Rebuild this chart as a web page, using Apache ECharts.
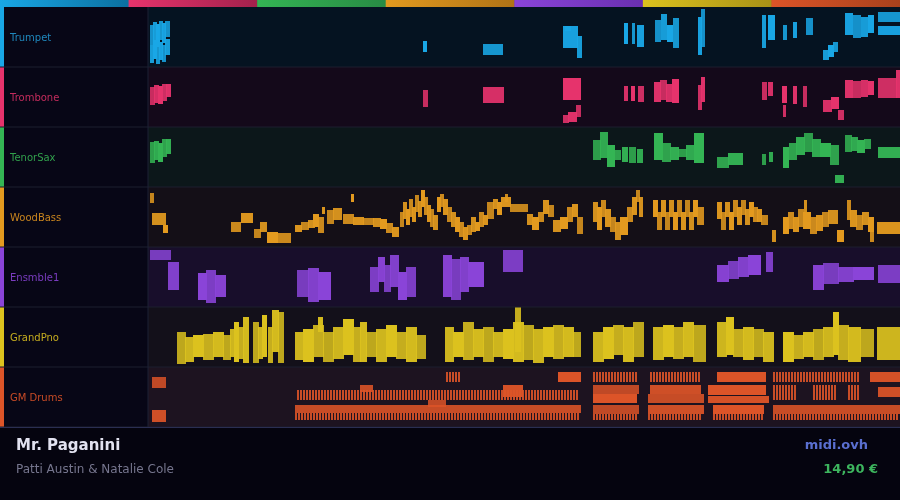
<!DOCTYPE html>
<html>
<head>
<meta charset="utf-8">
<script src="https://cdn.jsdelivr.net/npm/echarts@6/dist/echarts.min.js"></script>
<style>
  html, body { margin: 0; padding: 0; background: #05040f; }
  #chart { width: 900px; height: 500px; }
</style>
</head>
<body>
<div id="chart"></div>
<script>
// notes: [start, end, rowTop, rowBottom(, striped)] ; time 0..752, rows 0..60 (top -> bottom)
const trackNames = ['Trumpet', 'Trombone', 'TenorSax', 'WoodBass', 'Ensmble1', 'GrandPno', 'GM Drums'];

const trumpetNotes = [
  [2,5,18,38],[5,8,15,35],[8,11,17,40],[11,14,14,33],[14,17,16,36],[17,21,14,30],
  [2,5,38,56],[5,8,33,52],[8,11,40,57],[11,14,35,53],[14,17,38,55],[17,21,32,48],
  [275,278,34,45],[335,354,37,48],
  [415,429,19,41],[417,422,19,24],[429,433,29,51],
  [476,479,16,37],[484,486,16,37],[489,495,18,40],
  [507,512,13,35],[513,518,7,33],[519,524,18,35],[525,530,11,41],
  [550,553,10,48],[553,556,2,40],
  [614,617,8,41],[620,626,8,33],[635,638,18,33],[645,648,15,31],[658,664,11,28],
  [675,680,43,53],[680,685,38,50],[685,689,35,45],
  [697,704,6,28],[705,712,8,31],[713,719,10,30],[720,725,8,26],
  [730,752,5,15],[730,752,19,28]
];

const tromboneNotes = [
  [2,6,20,38],[6,10,18,36],[10,14,19,37],[14,18,17,34],[18,22,17,30],
  [275,279,23,40],[335,355,20,36],
  [415,432,11,33],[415,420,48,56],[420,428,45,55],[428,432,38,50],
  [476,479,19,34],[483,486,19,34],[490,495,19,35],
  [506,512,15,35],[512,518,13,33],[518,524,17,35],[524,530,12,36],
  [550,553,18,43],[553,556,10,35],
  [614,618,15,33],[620,624,15,29],[634,638,19,36],[635,637,38,50],[645,648,19,37],[655,658,19,40],
  [675,683,33,45],[683,690,30,42],[690,695,43,53],
  [697,704,13,31],[705,712,14,31],[713,719,13,30],[720,725,14,28],
  [730,748,11,31],[748,752,3,31]
];

const saxNotes = [
  [2,6,15,36],[6,10,14,33],[10,14,16,35],[14,18,12,30],[18,22,12,27],
  [445,452,13,33],[452,459,5,31],[459,466,18,40],[466,472,23,33],
  [474,479,20,35],[481,487,20,36],[489,494,22,36],
  [506,514,6,33],[514,522,16,35],[522,530,20,33],[530,538,22,30],[538,546,18,33],[546,555,6,36],
  [569,580,30,41],[580,594,26,38],
  [614,617,27,38],[621,624,25,35],
  [635,640,20,41],[641,648,16,33],[648,656,10,28],[656,664,6,25],[664,672,12,30],[672,682,16,30],[682,690,18,38],[687,695,48,56],
  [697,703,8,25],[703,709,10,24],[709,716,13,26],[716,722,12,22],
  [730,752,20,31]
];

const bassNotes = [
  [2,5,6,16],[4,17,26,38],[15,19,38,46],
  [83,92,35,45],[93,104,26,36],[106,112,42,51],[112,118,35,45],[119,129,45,56],[129,142,46,56],
  [147,153,38,45],[153,160,35,43],[160,166,33,41],[165,170,27,40],[170,175,30,46],[174,176,20,27],
  [179,185,23,37],[185,193,21,33],[203,205,7,15],[195,205,27,37],[205,215,30,38],[215,225,31,38],
  [225,232,31,40],[232,238,32,42],[238,244,36,46],[244,250,40,50],
  [252,255,25,40],[255,258,15,32],[258,261,22,38],[261,264,12,30],[264,267,20,35],[267,270,8,25],
  [270,273,14,30],[273,276,3,20],
  [276,279,10,28],[279,282,18,35],[282,285,22,40],[285,289,28,43],
  [289,292,10,25],[292,295,7,20],[295,299,12,28],
  [299,303,20,35],[303,307,25,40],[307,311,30,45],[311,315,35,50],[315,319,40,53],
  [319,323,38,48],[323,327,30,45],[327,331,35,44],[331,335,25,40],[335,339,28,38],[339,345,15,32],
  [345,349,12,22],[349,353,15,28],[357,359,7,15],[353,362,10,20],
  [362,379,17,25],
  [379,384,27,38],[384,390,30,43],[390,395,25,35],
  [395,400,13,27],[400,405,18,30],
  [405,412,33,45],[412,419,30,42],
  [419,424,20,35],[424,429,17,30],[429,434,30,47],
  [445,449,15,35],[449,453,20,43],[453,457,13,30],[457,462,22,40],
  [462,467,30,45],[467,472,35,53],[472,479,30,48],
  [479,484,20,35],[484,488,10,28],[488,491,3,15],[491,494,10,30],
  [505,509,13,30],[509,513,25,43],[513,517,13,30],[517,521,25,43],[521,525,13,30],[525,529,25,43],
  [529,533,13,30],[533,537,25,43],[537,541,13,30],[541,545,25,43],[545,549,13,30],[549,555,20,38],
  [569,573,15,32],[573,577,25,43],[577,581,15,30],[581,585,25,43],[585,589,13,30],[589,593,20,38],
  [593,597,13,28],[597,601,22,38],[601,605,15,30],[605,609,20,35],[609,613,22,35],[613,619,28,38],
  [624,627,43,55],
  [635,640,30,47],[640,645,25,42],[645,650,30,45],[650,655,22,40],[656,658,13,25],[655,662,25,42],
  [662,668,30,47],[668,674,28,44],[674,680,25,40],[680,689,23,37],
  [689,695,43,55],[699,702,13,33],
  [702,708,23,40],[708,714,28,43],[714,720,25,38],[720,725,30,45],[722,725,43,55],
  [729,752,35,47]
];

const ensembleNotes = [
  [2,22,3,13],[20,30,15,43],
  [50,58,26,53],[58,67,23,56],[67,77,28,50],
  [149,160,23,50],[160,170,21,55],[170,182,25,53],
  [222,230,20,45],[230,236,10,35],[236,242,18,45],[242,250,8,40],[250,258,25,53],[258,267,20,50],
  [295,303,8,50],[303,312,12,53],[312,320,10,45],[320,335,15,40],
  [355,374,3,25],
  [569,580,18,35],[580,590,14,32],[590,600,10,30],[600,612,8,28],[618,624,5,25],
  [665,675,18,43],[675,690,16,37],[690,705,20,35],[705,725,20,33],
  [730,752,18,36]
];

const pianoNotes = [
  [29,37,25,57],[37,45,30,55],[45,55,28,50],[55,65,27,53],[65,75,25,50],[75,82,28,53],
  [82,86,22,50],[86,90,15,55],[90,95,20,52],[95,100,10,56],
  [105,110,15,56],[110,114,20,52],[114,118,8,50],[120,124,20,56],[124,130,3,45],[130,135,5,56],
  [147,155,25,53],[155,165,22,55],[165,175,18,50],[170,174,10,25],[175,185,25,55],[185,195,20,52],
  [195,205,12,48],[205,212,20,55],
  [212,218,15,55],[218,228,25,50],[228,238,22,55],[238,248,18,50],[248,258,25,52],[258,268,20,55],[268,277,28,52],
  [297,305,20,55],[305,315,25,50],[315,325,15,53],[325,335,22,50],[335,345,20,55],[345,355,25,50],
  [355,365,22,52],[367,372,0,45],[365,375,15,55],[375,385,18,53],[385,395,22,56],[395,405,20,50],
  [405,415,18,52],[415,425,20,50],[425,432,25,50],
  [445,455,25,55],[455,465,20,52],[465,475,18,48],[475,485,20,55],[485,495,15,50],
  [505,515,20,53],[515,525,18,50],[525,535,20,52],[535,545,15,50],[545,557,18,55],
  [569,578,15,50],[578,585,10,48],[585,595,22,50],[595,605,20,53],[605,615,22,50],[615,625,25,55],
  [635,645,25,55],[645,655,28,52],[655,665,25,50],[665,675,22,53],[675,685,20,50],[685,690,5,48],
  [690,700,18,53],[700,712,20,55],[712,725,22,50],
  [729,752,20,53]
];

const drumNotes = [
  [4,17,10,21,0],[4,17,43,55,0],
  [149,432,23,33,1],[212,224,18,25,0],[355,374,18,30,0],[280,297,33,40,0],
  [298,314,5,15,1],[410,432,5,15,0],
  [147,432,38,46,0],[147,432,46,53,1],
  [445,490,5,15,1],[502,552,5,15,1],[569,617,5,15,0],[625,712,5,15,1],[722,752,5,15,0],
  [445,490,18,27,0],[502,552,18,27,0],[560,617,18,28,0],[625,650,18,33,1],[665,690,18,33,1],
  [700,712,18,33,1],[730,752,20,30,0],
  [445,488,27,36,0],[500,555,27,36,0],[560,620,29,36,0],
  [445,490,38,47,0],[500,555,38,47,0],[565,615,38,47,0],[625,752,38,47,0],
  [445,490,47,53,1],[500,555,47,53,1],[565,615,47,53,1],[625,752,47,53,1]
];

const tracks = [trumpetNotes, tromboneNotes, saxNotes, bassNotes, ensembleNotes, pianoNotes, drumNotes];
const noteColors = ['#19a7e6', '#e6336c', '#34b554', '#e39a1f', '#8a44d8', '#dcc21e', '#dc5428'];
const labelColors = ['#1f88bd', '#c42c5d', '#31a04c', '#c8841e', '#7a3cc0', '#c6ad1f', '#c84b26'];
const laneBg = ['#051321', '#14091a', '#0c171a', '#140f17', '#180e2b', '#13101a', '#1d1320'];
const barDark = ['#0b6f9f', '#a3214c', '#288b44', '#b07316', '#6a2fb0', '#a89116', '#a8411c'];

const LANE_TOP = 7, LANE_H = 60, LEFT = 148;

const chart = echarts.init(document.getElementById('chart'), null, { renderer: 'canvas' });

function renderNote(color) {
  return function (params, api) {
    const a = api.coord([api.value(0), api.value(2)]);
    const b = api.coord([api.value(1), api.value(3)]);
    const w = Math.max(b[0] - a[0], 2) + 1;
    const h = b[1] - a[1];
    const shade = 0.85 + 0.15 * ((params.dataIndex * 7) % 5) / 4;
    if (api.value(4) === 1) {
      const kids = [];
      for (let x = a[0]; x < a[0] + w - 2; x += 3) {
        kids.push({ type: 'rect', shape: { x: x, y: a[1], width: 2, height: h }, style: { fill: color, opacity: 0.9 } });
      }
      return { type: 'group', children: kids };
    }
    return { type: 'rect', shape: { x: a[0], y: a[1], width: w, height: h }, style: { fill: color, opacity: shade } };
  };
}

const grids = [], xAxes = [], yAxes = [], series = [], graphics = [];
tracks.forEach((notes, i) => {
  grids.push({ left: LEFT, right: 0, top: LANE_TOP + i * LANE_H, height: LANE_H,
    show: true, backgroundColor: laneBg[i], borderWidth: 0 });
  xAxes.push({ gridIndex: i, type: 'value', min: 0, max: 752, show: false });
  yAxes.push({ gridIndex: i, type: 'value', min: 0, max: 60, inverse: true, show: false });
  series.push({ type: 'custom', xAxisIndex: i, yAxisIndex: i, data: notes, clip: true,
    renderItem: renderNote(noteColors[i]), silent: true, animation: false });

  const top = LANE_TOP + i * LANE_H;
  graphics.push({ type: 'rect', left: 0, top: top, shape: { width: LEFT, height: LANE_H },
    style: { fill: '#070616' }, z: 1 });
  graphics.push({ type: 'rect', left: 0, top: top, shape: { width: 4, height: LANE_H },
    style: { fill: noteColors[i] }, z: 2 });
  graphics.push({ type: 'text', left: 10, top: top + LANE_H / 2 - 4,
    style: { text: trackNames[i], fill: labelColors[i], font: '10px "DejaVu Sans"' }, z: 3 });
  graphics.push({ type: 'rect', left: 0, top: top + LANE_H - 0.5, shape: { width: 900, height: 1 },
    style: { fill: '#1c1f2e' }, z: 4 });
  // top colour bar segment
  const segW = 900 / 7;
  graphics.push({ type: 'rect', left: i * segW, top: 0, shape: { width: segW + 0.5, height: 7 },
    style: { fill: new echarts.graphic.LinearGradient(0, 0, 1, 0,
      [{ offset: 0, color: noteColors[i] }, { offset: 1, color: barDark[i] }]) }, z: 5 });
});

graphics.push(
  { type: 'rect', left: LEFT - 0.5, top: 7, shape: { width: 1, height: 420 }, style: { fill: '#1c2034' }, z: 4 },
  { type: 'rect', left: 0, top: 427, shape: { width: 900, height: 73 }, style: { fill: '#05040f' }, z: 1 },
  { type: 'rect', left: 0, top: 427, shape: { width: 900, height: 1 }, style: { fill: '#2a2e52' }, z: 4 },
  { type: 'text', left: 16, top: 439, style: { text: 'Mr. Paganini', fill: '#e2e2f0', font: 'bold 15px "DejaVu Sans"' }, z: 5 },
  { type: 'text', left: 16, top: 464, style: { text: 'Patti Austin & Natalie Cole', fill: '#76768e', font: '12px "DejaVu Sans"' }, z: 5 },
  { type: 'text', right: 32, top: 439, style: { text: 'midi.ovh', fill: '#5a6fd0', font: 'bold 13px "DejaVu Sans"' }, z: 5 },
  { type: 'text', right: 22, top: 463, style: { text: '14,90 €', fill: '#3db55e', font: 'bold 13px "DejaVu Sans"' }, z: 5 }
);

chart.setOption({
  backgroundColor: '#05040f',
  animation: false,
  grid: grids,
  xAxis: xAxes,
  yAxis: yAxes,
  series: series,
  graphic: { elements: graphics }
});
</script>
</body>
</html>
